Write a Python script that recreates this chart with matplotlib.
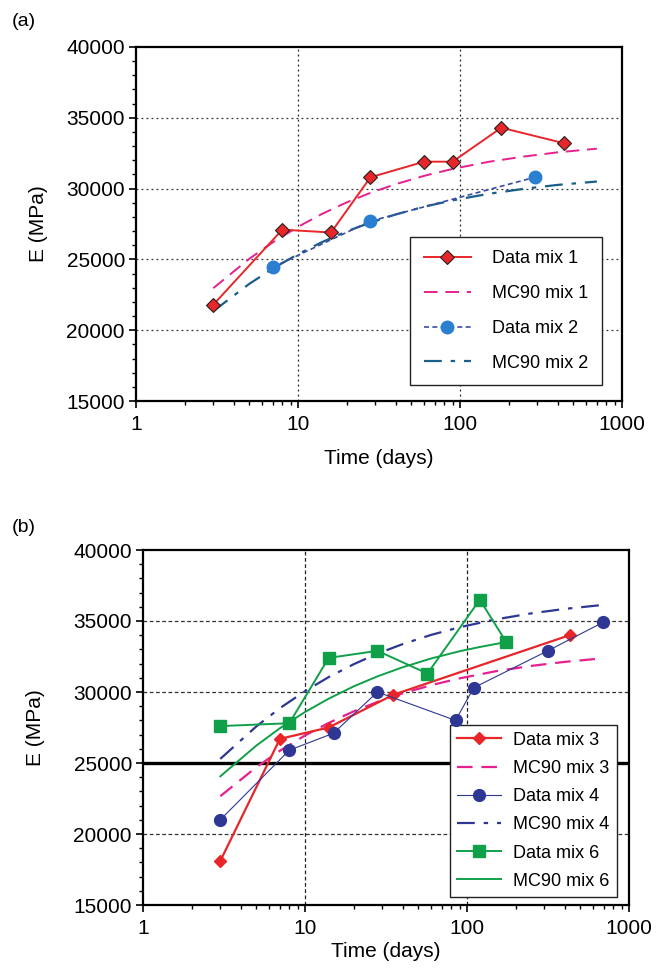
import matplotlib
matplotlib.use('Agg')
import matplotlib.pyplot as plt
from matplotlib.ticker import LogLocator, MultipleLocator, FixedLocator, FixedFormatter

plt.rcParams['font.family'] = ['Liberation Sans', 'DejaVu Sans']

# ---- panel (a) ----
t_mix1 = [3, 8, 16, 28, 60, 90, 180, 440]
E_mix1 = [21800, 27100, 26900, 30800, 31900, 31900, 34300, 33200]
t_mix2 = [7, 28, 290]
E_mix2 = [24450, 27700, 30800]

t_mc = [3, 5, 7, 10, 14, 20, 28, 40, 60, 90, 150, 250, 400, 700]
mc_mix1 = [22970, 25040, 26210, 27300, 28200, 29030, 29700, 30310, 30900, 31390, 31890, 32270, 32560, 32820]
mc_mix2 = [21350, 23270, 24360, 25370, 26210, 26980, 27600, 28170, 28720, 29170, 29630, 29990, 30260, 30500]

# ---- panel (b) ----
t_mix3 = [3, 7, 14, 35, 430]
E_mix3 = [18100, 26700, 27500, 29800, 34000]
t_mix4 = [3, 8, 15, 28, 85, 110, 315, 690]
E_mix4 = [21000, 25900, 27100, 30000, 28000, 30300, 32900, 34900]
t_mix6 = [3, 8, 14, 28, 57, 120, 175]
E_mix6 = [27600, 27800, 32400, 32900, 31300, 36500, 33500]

mc_mix3 = [22660, 24700, 25860, 26940, 27820, 28640, 29300, 29900, 30480, 30960, 31460, 31840, 32120, 32380]
mc_mix4 = [25290, 27570, 28860, 30060, 31050, 31960, 32700, 33370, 34020, 34560, 35110, 35540, 35850, 36140]
t_mc6 = [3, 5, 7, 10, 14, 20, 28, 40, 60, 90, 120, 180]
mc_mix6 = [24060, 26220, 27450, 28590, 29530, 30400, 31100, 31740, 32360, 32870, 33170, 33550]

x_ticks = [1, 10, 100, 1000]
y_ticks = [15000, 20000, 25000, 30000, 35000, 40000]

W, H = 666, 971
fig = plt.figure(figsize=(W / 100, H / 100), dpi=100)


def setup_axes(ax, grid_style, xpad, ypad):
    ax.set_xscale('log')
    ax.set_xlim(1, 1000)
    ax.set_ylim(15000, 40000)
    ax.xaxis.set_major_locator(FixedLocator(x_ticks))
    ax.xaxis.set_major_formatter(FixedFormatter([str(v) for v in x_ticks]))
    ax.xaxis.set_minor_locator(LogLocator(base=10, subs=range(2, 10)))
    ax.xaxis.set_minor_formatter(FixedFormatter([]))
    ax.yaxis.set_major_locator(FixedLocator(y_ticks))
    ax.yaxis.set_minor_locator(MultipleLocator(1000))
    ax.tick_params(which='major', direction='out', length=5, width=1.2, labelsize=15)
    ax.tick_params(axis='x', which='major', pad=5)
    ax.tick_params(axis='y', which='major', pad=3)
    ax.tick_params(which='minor', direction='out', length=3, width=1.0)
    ax.tick_params(axis='x', which='both', top=False)
    ax.tick_params(axis='y', which='both', right=False)
    for s in ax.spines.values():
        s.set_linewidth(1.6)
    for x in [10, 100]:
        ax.axvline(x, color='#222222', lw=0.9, ls=grid_style, zorder=0)
    for y in [20000, 25000, 30000, 35000]:
        ax.axhline(y, color='#333333', lw=0.9, ls=grid_style, zorder=0)
    ax.set_xlabel('Time (days)', fontsize=15, labelpad=xpad)
    ax.set_ylabel('E (MPa)', fontsize=15, labelpad=ypad)


# (a)
ax1 = fig.add_axes([136 / W, 1 - 401 / H, 486 / W, 354 / H])
setup_axes(ax1, (0, (1.5, 2.5)), xpad=11, ypad=13)
ax1.plot(t_mix1, E_mix1, color='#e8262a', lw=1.4, marker='D', ms=7.5,
         mfc='#e8262a', mec='#222222', mew=0.8, label='Data mix 1', zorder=4)
ax1.plot(t_mc, mc_mix1, color='#e6208f', lw=1.4, ls=(0, (7, 4)), label='MC90 mix 1', zorder=3)
ax1.plot(t_mix2, E_mix2, color='#3b4ba3', lw=1.2, ls=(0, (3, 2)), marker='o', ms=9,
         mfc='#2a7fd1', mec='#2a7fd1', label='Data mix 2', zorder=4)
ax1.plot(t_mc, mc_mix2, color='#1a5e8a', lw=1.6, ls=(0, (8, 4, 2, 4)), label='MC90 mix 2', zorder=3)
leg1 = ax1.legend(loc='lower right', bbox_to_anchor=(0.959, 0.045), borderaxespad=0,
                  fontsize=13, frameon=True, fancybox=False, edgecolor='#222222', framealpha=1,
                  handlelength=2.6, labelspacing=0.98, borderpad=0.75, handletextpad=1.2)
leg1.get_frame().set_linewidth(1.0)
fig.text(12 / W, 1 - 21 / H, '(a)', fontsize=14, va='center')

# (b)
ax2 = fig.add_axes([143 / W, 1 - 905 / H, 486 / W, 355 / H])
setup_axes(ax2, (0, (3, 2)), xpad=3, ypad=20)
ax2.axhline(25000, color='black', lw=2.4, zorder=2)
ax2.plot(t_mix3, E_mix3, color='#e8262a', lw=1.6, marker='D', ms=6.5,
         mfc='#e8262a', mec='#e8262a', label='Data mix 3', zorder=4)
ax2.plot(t_mc, mc_mix3, color='#e6208f', lw=1.6, ls=(0, (7, 4)), label='MC90 mix 3', zorder=3)
ax2.plot(t_mix4, E_mix4, color='#2e3794', lw=0.8, marker='o', ms=8.5,
         mfc='#2e3794', mec='#2e3794', label='Data mix 4', zorder=4)
ax2.plot(t_mc, mc_mix4, color='#2e3794', lw=1.6, ls=(0, (8, 4, 2, 4)), label='MC90 mix 4', zorder=3)
ax2.plot(t_mix6, E_mix6, color='#10a04a', lw=1.4, marker='s', ms=8,
         mfc='#10a04a', mec='#10a04a', label='Data mix 6', zorder=4)
ax2.plot(t_mc6, mc_mix6, color='#10a04a', lw=1.4, label='MC90 mix 6', zorder=3)
leg2 = ax2.legend(loc='lower right', bbox_to_anchor=(0.975, 0.0225), borderaxespad=0,
                  fontsize=13, frameon=True, fancybox=False, edgecolor='#222222', framealpha=1,
                  handlelength=2.4, labelspacing=0.62, borderpad=0.4, handletextpad=0.7)
leg2.get_frame().set_linewidth(1.0)
# keep the data markers above the legend box edge
leg2.set_zorder(3.5)
fig.text(12 / W, 1 - 527 / H, '(b)', fontsize=14, va='center')

fig.savefig('out.png', dpi=100)
